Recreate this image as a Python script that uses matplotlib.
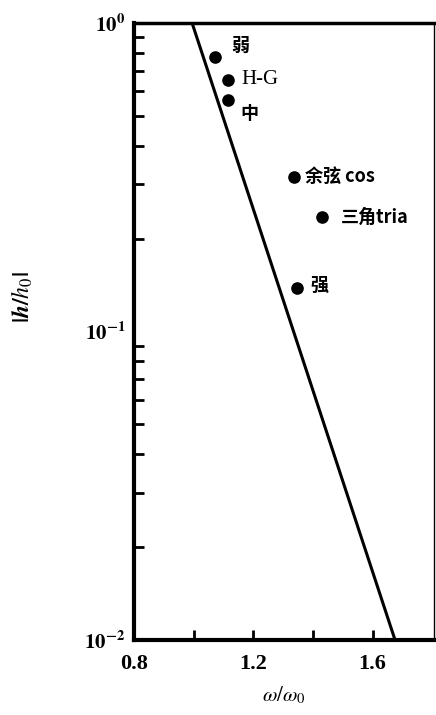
import matplotlib
matplotlib.use("Agg")
import matplotlib.pyplot as plt
import numpy as np
from matplotlib.ticker import FixedLocator, LogLocator, NullFormatter, FixedFormatter

# data
line_x = [0.995, 1.675]
line_y = [1.0, 0.01]
pt_labels = ["弱", "H-G", "中", "余弦 cos", "三角tria", "强"]
pt_x = [1.071, 1.115, 1.115, 1.336, 1.430, 1.346]
pt_y = [0.776, 0.653, 0.563, 0.317, 0.235, 0.138]
xtick_vals = [0.8, 1.2, 1.6]
xtick_labels = ["0.8", "1.2", "1.6"]
xminor = [1.0, 1.4]

plt.rcParams['font.family'] = ['Liberation Serif', 'Noto Sans CJK SC', 'DejaVu Sans']
plt.rcParams['mathtext.fontset'] = 'stix'

fig = plt.figure(figsize=(4.36, 7.15), dpi=100)
ax = fig.add_axes([0.307, 0.105, 0.688, 0.863])
ax.set_yscale('log')
ax.set_xlim(0.8, 1.805)
ax.set_ylim(0.01, 1.0)

ax.plot(line_x, line_y, color='black', lw=2.2)
ax.scatter(pt_x, pt_y, s=65, color='black', zorder=3)

offsets = [(12, 8), (10, 0), (9, -10), (8, 0), (14, 0), (10, 2)]
fonts = [
    ['Noto Sans CJK SC'], ['Liberation Serif'], ['Noto Sans CJK SC'],
    ['Noto Sans CJK SC', 'DejaVu Sans'], ['Noto Sans CJK SC', 'DejaVu Sans'], ['Noto Sans CJK SC'],
]
sizes = [13, 15, 13, 13, 13, 13]
for lab, x, y, off, fam, sz in zip(pt_labels, pt_x, pt_y, offsets, fonts, sizes):
    ax.annotate(lab, (x, y), xytext=off, textcoords='offset points',
                ha='left', va='center', fontsize=sz, family=fam,
                fontweight='bold' if fam[0] == 'Noto Sans CJK SC' else 'normal')

ax.xaxis.set_major_locator(FixedLocator(xtick_vals))
ax.xaxis.set_major_formatter(FixedFormatter(xtick_labels))
ax.xaxis.set_minor_locator(FixedLocator(xminor))
ax.tick_params(axis='x', which='both', direction='in', length=7, width=2, top=False, pad=10,
               labelsize=16)
ax.tick_params(axis='y', which='major', direction='in', length=0, width=2, pad=6, labelsize=15)
ax.tick_params(axis='y', which='minor', direction='in', length=7, width=2, right=False)
ax.yaxis.set_major_locator(FixedLocator([0.01, 0.1, 1.0]))
ax.yaxis.set_major_formatter(FixedFormatter([r'$\mathbf{10^{-2}}$', r'$\mathbf{10^{-1}}$', r'$\mathbf{10^{0}}$']))
ax.yaxis.set_minor_locator(LogLocator(base=10, subs=np.arange(2, 10)))
ax.yaxis.set_minor_formatter(NullFormatter())
for t in ax.get_xticklabels():
    t.set_fontweight('bold')

ax.spines['left'].set_linewidth(3)
ax.spines['bottom'].set_linewidth(3)
ax.spines['top'].set_linewidth(2.5)
ax.spines['right'].set_linewidth(1)

ax.set_xlabel(r'$\omega/\omega_0$', fontsize=15, labelpad=8)
ax.set_ylabel(r'$\mathbf{|}\boldsymbol{h/h_0}\mathbf{|}$', fontsize=17)
ax.yaxis.set_label_coords(-0.33, 0.555)

fig.savefig('out.png', dpi=100)
